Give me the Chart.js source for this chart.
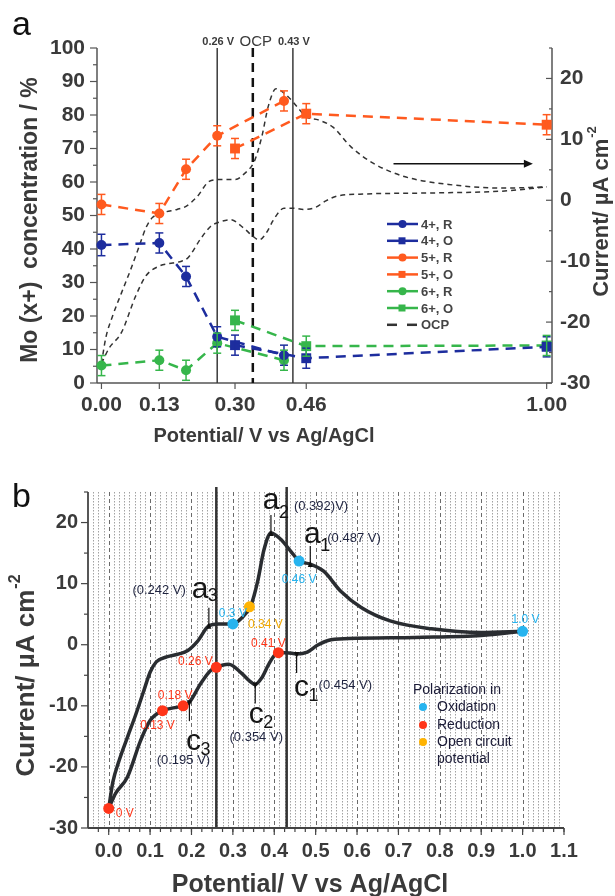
<!DOCTYPE html>
<html>
<head>
<meta charset="utf-8">
<title>Mo oxidation states and cyclic voltammogram</title>
<script src="https://cdn.jsdelivr.net/npm/chart.js@4.4.1/dist/chart.umd.min.js"></script>
<style>
  body { margin: 0; background: #fff; }
  canvas { position: absolute; left: 0; }
</style>
</head>
<body>
<canvas id="panelA" width="615" height="450" style="top:0"></canvas>
<canvas id="panelB" width="615" height="446" style="top:450px"></canvas>
<script>
// ---------- panel a: Mo (x+) fractions at each polarization potential ----------
const potR = [0, 0.13, 0.19, 0.26, 0.41];      // reduction-branch samples (V)
const potO = [0.30, 0.46, 1.00];               // oxidation-branch samples (V)
const mo4R = [41.2, 41.8, 31.8, 13.8, 8.3];
const mo4O = [11.3, 7.4, 10.8];
const mo5R = [53.3, 50.6, 63.8, 73.8, 84.2];
const mo5O = [70.0, 80.4, 77.1];
const mo6R = [5.2, 6.8, 3.8, 11.9, 6.8];
const mo6O = [18.7, 11.0, 11.2];
const err4R = [3.2, 3.0, 3.0, 3.0, 3.0];
const err4O = [3.0, 3.0, 3.0];
const err5R = [3.0, 3.0, 3.0, 3.0, 3.0];
const err5O = [3.0, 3.0, 3.0];
const err6R = [3.0, 3.0, 3.0, 3.0, 3.0];
const err6O = [3.0, 3.0, 3.0];
const xTicksA = [0, 0.13, 0.30, 0.46, 1.00];
const concTicks = [0, 10, 20, 30, 40, 50, 60, 70, 80, 90, 100];
const currTicks = [-30, -20, -10, 0, 10, 20];
const guideV = [0.26, 0.43];
const guideLbl = ['0.26 V', '0.43 V'];
const ocpPot = 0.34;

// ---------- cyclic voltammogram (both panels) ----------
const cvUpV = [0, 0.010, 0.025, 0.045, 0.065, 0.085, 0.100, 0.115, 0.140, 0.170, 0.190, 0.215, 0.242,
  0.265, 0.300, 0.320, 0.344, 0.360, 0.375, 0.392, 0.415, 0.440, 0.460, 0.487, 0.520, 0.560, 0.610,
  0.680, 0.780, 0.900, 1.000];
const cvUpI = [-26.8, -22.5, -19.0, -15.2, -11.5, -7.5, -4.5, -2.8, -2.0, -1.5, -1.0, 0.6, 3.1,
  3.4, 3.4, 4.3, 6.5, 10.4, 15.5, 18.3, 17.3, 15.3, 13.7, 13.2, 12.0, 8.8, 6.1,
  3.9, 2.6, 2.0, 2.2];
const cvDownV = [0, 0.017, 0.045, 0.077, 0.100, 0.130, 0.160, 0.180, 0.195, 0.222, 0.245, 0.260,
  0.290, 0.320, 0.340, 0.354, 0.370, 0.385, 0.400, 0.410, 0.430, 0.454, 0.480, 0.504, 0.530,
  0.580, 0.740, 0.900, 1.000];
const cvDownI = [-26.8, -24.3, -21.7, -15.7, -12.4, -10.8, -10.3, -10.0, -9.4, -6.4, -4.3, -3.7,
  -3.2, -4.6, -5.9, -6.5, -5.4, -3.4, -1.8, -1.3, -1.3, -1.5, -1.2, -0.1, 0.7,
  1.0, 1.2, 1.5, 2.2];
const arrowFrom = [0.656, 6.0], arrowTo = [0.969, 6.0];

// ---------- panel b ----------
const xTicksB = [0, 0.1, 0.2, 0.3, 0.4, 0.5, 0.6, 0.7, 0.8, 0.9, 1.0, 1.1];
const oxV = [0.30, 0.46, 1.0], oxI = [3.4, 13.7, 2.2], oxLbl = ['0.3 V', '0.46 V', '1.0 V'];
const redV = [0, 0.13, 0.18, 0.26, 0.41], redI = [-26.8, -10.8, -10.0, -3.7, -1.3];
const redLbl = ['0 V', '0.13 V', '0.18 V', '0.26 V', '0.41 V'];
const ocpV = [0.34], ocpI = [6.2], ocpLbl = ['0.34 V'];
const peakName = ['a', 'a', 'a', 'c', 'c', 'c'];
const peakSub = ['3', '2', '1', '1', '2', '3'];
const peakV = [0.242, 0.392, 0.487, 0.454, 0.354, 0.195];
const peakI = [3.1, 18.3, 13.2, -1.5, -6.5, -9.4];
const peakNote = ['(0.242 V)', '(0.392)V)', '(0.487 V)', '(0.454 V)', '(0.354 V)', '(0.195 V)'];

const FONT = '"Liberation Sans", Arial, sans-serif';
const BLUE = '#1d2d9e', ORANGE = '#ff5a1f', GREEN = '#36b64b';
const OXC = '#27b4ef', REDC = '#ff3519', OCPC = '#ffb403';
const INK = '#3a3a3a';

Chart.defaults.font.family = FONT;
Chart.defaults.color = INK;

function pts(xs, ys) { return xs.map((x, i) => ({x, y: ys[i]})); }
function fixedTicks(list) { return scale => { scale.ticks = list.map(v => ({value: v})); }; }
function seg(ctx, x1, y1, x2, y2) { ctx.beginPath(); ctx.moveTo(x1, y1); ctx.lineTo(x2, y2); ctx.stroke(); }
function steps(a, b, s) { const out = []; for (let v = a; v <= b + 1e-9; v += s) out.push(+v.toFixed(4)); return out; }

// rotated axis title with an optional superscript (reads bottom to top)
function vTitle(ctx, main, sup, size, cx, cy) {
  ctx.save();
  ctx.translate(cx, cy);
  ctx.rotate(-Math.PI / 2);
  ctx.fillStyle = INK;
  ctx.textBaseline = 'middle';
  ctx.textAlign = 'left';
  ctx.font = `bold ${size}px ${FONT}`;
  const w1 = ctx.measureText(main).width;
  ctx.font = `bold ${Math.round(size * 0.6)}px ${FONT}`;
  const w2 = sup ? ctx.measureText(sup).width : 0;
  const x0 = -(w1 + w2) / 2;
  ctx.font = `bold ${size}px ${FONT}`;
  ctx.fillText(main, x0, 0);
  if (sup) {
    ctx.font = `bold ${Math.round(size * 0.6)}px ${FONT}`;
    ctx.fillText(sup, x0 + w1 + 1, -size * 0.42);
  }
  ctx.restore();
}

function text(ctx, str, x, y, font, color, align, base) {
  ctx.font = font;
  ctx.fillStyle = color;
  ctx.textAlign = align || 'left';
  ctx.textBaseline = base || 'alphabetic';
  ctx.fillText(str, x, y);
}

function cvDataset(xs, ys, axis, style) {
  return Object.assign({
    data: pts(xs, ys), yAxisID: axis, showLine: true, pointRadius: 0,
    cubicInterpolationMode: 'monotone', fill: false, clip: false
  }, style);
}

function moSeries(label, xs, ys, errs, color, shape) {
  return {
    label, data: pts(xs, ys), errs, yAxisID: 'y', showLine: true, inLegend: true,
    borderColor: color, backgroundColor: color, borderWidth: 2.5, borderDash: [10, 7],
    pointStyle: shape, pointRadius: shape === 'rect' ? 7 : 5, pointBorderWidth: 0,
    clip: false, order: 0
  };
}

// ---------- panel a drawing ----------
const panelAExtras = {
  id: 'panelAExtras',
  beforeDatasetsDraw(chart) {
    const {ctx, chartArea: a, scales: {x, y, y1}} = chart;
    ctx.save();
    ctx.strokeStyle = '#555';
    ctx.lineWidth = 1.5;
    seg(ctx, a.left, a.top, a.left, a.bottom);
    seg(ctx, a.right, a.top, a.right, a.bottom);
    seg(ctx, a.left, a.bottom, a.right, a.bottom);
    ctx.lineWidth = 1.2;
    concTicks.forEach(v => { const p = y.getPixelForValue(v); seg(ctx, a.left - 7, p, a.left, p); });
    steps(5, 95, 10).forEach(v => { const p = y.getPixelForValue(v); seg(ctx, a.left - 4, p, a.left, p); });
    currTicks.forEach(v => { const p = y1.getPixelForValue(v); seg(ctx, a.right - 6, p, a.right, p); });
    steps(-25, 25, 10).forEach(v => { const p = y1.getPixelForValue(v); seg(ctx, a.right - 3, p, a.right, p); });
    xTicksA.forEach(v => { const p = x.getPixelForValue(v); seg(ctx, p, a.bottom, p, a.bottom + 6); });

    // polarization guide lines
    ctx.strokeStyle = '#3a3a3a';
    ctx.lineWidth = 1.5;
    guideV.forEach(v => { const p = x.getPixelForValue(v); seg(ctx, p, a.top, p, a.bottom); });
    ctx.strokeStyle = '#111';
    ctx.lineWidth = 2.5;
    ctx.setLineDash([9, 6]);
    const po = x.getPixelForValue(ocpPot);
    seg(ctx, po, a.top, po, a.bottom);
    ctx.restore();
  },
  afterDatasetsDraw(chart) {
    const {ctx, chartArea: a, scales: {x, y, y1}} = chart;
    ctx.save();
    // error bars
    chart.data.datasets.forEach((d, i) => {
      if (!d.errs) return;
      const meta = chart.getDatasetMeta(i);
      ctx.strokeStyle = d.borderColor;
      ctx.lineWidth = 1.5;
      meta.data.forEach((pt, j) => {
        const v = d.data[j].y, e = d.errs[j];
        const top = y.getPixelForValue(v + e), bot = y.getPixelForValue(v - e);
        seg(ctx, pt.x, top, pt.x, bot);
        seg(ctx, pt.x - 4, top, pt.x + 4, top);
        seg(ctx, pt.x - 4, bot, pt.x + 4, bot);
      });
    });

    // arrow pointing to the current axis
    const ax1 = x.getPixelForValue(arrowFrom[0]), ay = y1.getPixelForValue(arrowFrom[1]);
    const ax2 = x.getPixelForValue(arrowTo[0]);
    ctx.strokeStyle = '#111';
    ctx.fillStyle = '#111';
    ctx.lineWidth = 1.5;
    seg(ctx, ax1, ay, ax2 - 6, ay);
    ctx.beginPath();
    ctx.moveTo(ax2, ay); ctx.lineTo(ax2 - 9, ay - 4); ctx.lineTo(ax2 - 9, ay + 4); ctx.closePath();
    ctx.fill();

    // guide line captions
    guideV.forEach((v, i) => text(ctx, guideLbl[i], x.getPixelForValue(v) + 1, a.top - 3,
      `bold 11px ${FONT}`, INK, 'center'));
    text(ctx, 'OCP', x.getPixelForValue(ocpPot) + 3, a.top - 2, `15px ${FONT}`, INK, 'center');

    // legend
    const rows = chart.data.datasets.filter(d => d.inLegend);
    rows.forEach((d, i) => {
      const ly = 224 + i * 16.8;
      ctx.strokeStyle = d.borderColor;
      ctx.fillStyle = d.borderColor;
      if (d.pointRadius) {
        ctx.lineWidth = 2.5;
        ctx.setLineDash([]);
        seg(ctx, 387, ly, 418, ly);
        ctx.beginPath();
        if (d.pointStyle === 'rect') ctx.rect(398.5, ly - 3.5, 7, 7);
        else ctx.arc(402.5, ly, 4, 0, Math.PI * 2);
        ctx.fill();
      } else {
        ctx.lineWidth = 2.5;
        ctx.setLineDash([10, 10]);
        seg(ctx, 387, ly, 418, ly);
        ctx.setLineDash([]);
      }
      text(ctx, d.label, 421, ly + 1, `bold 13px ${FONT}`, '#444', 'left', 'middle');
    });

    // titles
    text(ctx, 'a', 12, 35, `34px ${FONT}`, '#111');
    vTitle(ctx, 'Mo (x+)  concentration / %', '', 23, 31, 220);
    vTitle(ctx, 'Current/ \u00b5A cm', '-2', 22, 602, 212);
    text(ctx, 'Potential/ V vs Ag/AgCl', 264, 442, `bold 20px ${FONT}`, INK, 'center');
    ctx.restore();
  }
};

new Chart(document.getElementById('panelA'), {
  type: 'scatter',
  data: {
    datasets: [
      moSeries('4+, R', potR, mo4R, err4R, BLUE, 'circle'),
      moSeries('4+, O', potO, mo4O, err4O, BLUE, 'rect'),
      moSeries('5+, R', potR, mo5R, err5R, ORANGE, 'circle'),
      moSeries('5+, O', potO, mo5O, err5O, ORANGE, 'rect'),
      moSeries('6+, R', potR, mo6R, err6R, GREEN, 'circle'),
      moSeries('6+, O', potO, mo6O, err6O, GREEN, 'rect'),
      cvDataset(cvUpV, cvUpI, 'y1', {label: 'OCP', inLegend: true, borderColor: '#333',
        borderWidth: 1.5, borderDash: [5, 4], order: 1}),
      cvDataset(cvDownV, cvDownI, 'y1', {label: 'OCP', borderColor: '#333',
        borderWidth: 1.5, borderDash: [5, 4], order: 1})
    ]
  },
  options: {
    responsive: false,
    animation: false,
    layout: {padding: {top: 48, left: 0, right: 0, bottom: 0}},
    plugins: {legend: {display: false}, tooltip: {enabled: false}},
    scales: {
      x: {
        type: 'linear', min: -0.01, max: 1.012,
        afterBuildTicks: fixedTicks(xTicksA),
        afterFit: s => { s.height = 67; },
        grid: {display: false, drawTicks: false}, border: {display: false},
        ticks: {padding: 10, autoSkip: false, maxRotation: 0, color: INK,
          font: {size: 21, weight: 'bold'}, callback: v => v.toFixed(2)}
      },
      y: {
        type: 'linear', position: 'left', min: 0, max: 100,
        afterBuildTicks: fixedTicks(concTicks),
        afterFit: s => { s.width = 97; },
        grid: {display: false, drawTicks: false}, border: {display: false},
        ticks: {padding: 12, autoSkip: false, color: INK, font: {size: 21, weight: 'bold'}}
      },
      y1: {
        type: 'linear', position: 'right', min: -30, max: 25,
        afterBuildTicks: fixedTicks(currTicks),
        afterFit: s => { s.width = 63; },
        grid: {display: false, drawTicks: false}, border: {display: false},
        ticks: {padding: 8, autoSkip: false, color: INK, font: {size: 21, weight: 'bold'}}
      }
    }
  },
  plugins: [panelAExtras]
});

// ---------- panel b drawing ----------
const panelBExtras = {
  id: 'panelBExtras',
  beforeDatasetsDraw(chart) {
    const {ctx, chartArea: a, scales: {x, y}} = chart;
    ctx.save();
    // vertical dotted grid, darker dashes every 0.1 V
    for (let k = -3; k <= 87; k++) {
      const p = Math.round(x.getPixelForValue(k * 0.0125)) + 0.5;
      const major = k % 8 === 0;
      ctx.strokeStyle = major ? '#6a6a6a' : '#a2a2a2';
      ctx.lineWidth = 1;
      ctx.setLineDash(major ? [4, 3] : [1.5, 1.5]);
      seg(ctx, p, a.top, p, a.bottom);
    }
    ctx.setLineDash([]);

    ctx.strokeStyle = '#333';
    ctx.lineWidth = 2.5;
    guideV.forEach(v => { const p = x.getPixelForValue(v); seg(ctx, p, a.top - 5, p, a.bottom); });

    ctx.strokeStyle = '#444';
    ctx.lineWidth = 1.8;
    seg(ctx, a.left, a.top, a.left, a.bottom);
    seg(ctx, a.left, a.bottom, a.right, a.bottom);
    ctx.lineWidth = 1.2;
    currTicks.forEach(v => { const p = y.getPixelForValue(v); seg(ctx, a.left - 7, p, a.left, p); });
    steps(-25, 25, 10).forEach(v => { const p = y.getPixelForValue(v); seg(ctx, a.left - 4, p, a.left, p); });
    xTicksB.forEach(v => { const p = x.getPixelForValue(v); seg(ctx, p, a.bottom, p, a.bottom + 7); });
    steps(-0.025, 1.1, 0.025).forEach(v => {
      const p = x.getPixelForValue(v); seg(ctx, p, a.bottom, p, a.bottom + 4);
    });
    ctx.restore();
  },
  afterDatasetsDraw(chart) {
    const {ctx, scales: {x, y}} = chart;
    ctx.save();
    // peak markers: arrow to the curve plus name, subscript and potential
    const layout = [
      {dir: -1, l: -10, s: [-1, -7], n: [-23, -17, 'right']},
      {dir: -1, l: -6, s: [8, 3], n: [23, -9, 'left']},
      {dir: -1, l: -3, s: [10, 5], n: [17, -8, 'left']},
      {dir: 1, l: 23, s: [12, 28], n: [22, 13, 'left']},
      {dir: 1, l: 20, s: [8, 25], n: [1, 34, 'center']},
      {dir: 1, l: 29, s: [11, 34], n: [-6, 39, 'center']}
    ];
    peakV.forEach((v, i) => {
      const L = layout[i];
      const px = x.getPixelForValue(v), py = y.getPixelForValue(peakI[i]);
      const tip = py + (L.dir < 0 ? -3 : 4), tail = tip + L.dir * 15;
      ctx.strokeStyle = '#111';
      ctx.fillStyle = '#111';
      ctx.lineWidth = 1.2;
      seg(ctx, px, tail, px, tip - L.dir * 4);
      ctx.beginPath();
      ctx.moveTo(px, tip); ctx.lineTo(px - 2.5, tip - L.dir * 6); ctx.lineTo(px + 2.5, tip - L.dir * 6);
      ctx.closePath();
      ctx.fill();
      // name sits right against its subscript
      text(ctx, peakName[i], px + L.s[0] + 0.5, tail + L.l, `30px ${FONT}`, '#151515', 'right');
      text(ctx, peakSub[i], px + L.s[0], tail + L.s[1], `18px ${FONT}`, '#151515');
      text(ctx, peakNote[i], px + L.n[0], tail + L.n[1], `13px ${FONT}`, '#1f2440', L.n[2], 'middle');
    });

    // polarization point captions
    const caption = (vs, is, lbls, color, offs) => vs.forEach((v, i) => {
      const o = offs[i];
      text(ctx, lbls[i], x.getPixelForValue(v) + o[0], y.getPixelForValue(is[i]) + o[1],
        `12px ${FONT}`, color, o[2] || 'center', 'middle');
    });
    caption(redV, redI, redLbl, REDC, [[7, 5, 'left'], [-5, 15], [-8, -10], [-21, -6], [-10, -9]]);
    caption(oxV, oxI, oxLbl, OXC, [[0, -10], [0, 19], [3, -12]]);
    caption(ocpV, ocpI, ocpLbl, '#f2a900', [[16, 18]]);

    // polarization legend
    text(ctx, 'Polarization in', 413, 240, `14px ${FONT}`, '#1c1c38', 'left', 'middle');
    [['Oxidation', OXC, 257], ['Reduction', REDC, 275], ['Open circuit', OCPC, 292]].forEach(r => {
      ctx.fillStyle = r[1];
      ctx.beginPath(); ctx.arc(423, r[2], 4, 0, Math.PI * 2); ctx.fill();
      text(ctx, r[0], 437, r[2], `14px ${FONT}`, '#1c1c38', 'left', 'middle');
    });
    text(ctx, 'potential', 437, 309, `14px ${FONT}`, '#1c1c38', 'left', 'middle');

    // titles
    text(ctx, 'b', 12, 57, `34px ${FONT}`, '#111');
    vTitle(ctx, 'Current/ \u00b5A cm', '-2', 26, 27, 226);
    text(ctx, 'Potential/ V vs Ag/AgCl', 310, 442, `bold 25px ${FONT}`, INK, 'center');
    ctx.restore();
  }
};

new Chart(document.getElementById('panelB'), {
  type: 'scatter',
  data: {
    datasets: [
      {label: 'Oxidation', data: pts(oxV, oxI), pointRadius: 5.5, pointBorderWidth: 0,
        backgroundColor: OXC, clip: false, order: 0},
      {label: 'Reduction', data: pts(redV, redI), pointRadius: 5.5, pointBorderWidth: 0,
        backgroundColor: REDC, clip: false, order: 0},
      {label: 'Open circuit potential', data: pts(ocpV, ocpI), pointRadius: 5.5, pointBorderWidth: 0,
        backgroundColor: OCPC, clip: false, order: 0},
      cvDataset(cvUpV, cvUpI, 'y', {label: 'CV', borderColor: '#2a2d31', borderWidth: 3.5, order: 1}),
      cvDataset(cvDownV, cvDownI, 'y', {label: 'CV', borderColor: '#2a2d31', borderWidth: 3.5, order: 1})
    ]
  },
  options: {
    responsive: false,
    animation: false,
    layout: {padding: {top: 42, left: 0, right: 51, bottom: 0}},
    plugins: {legend: {display: false}, tooltip: {enabled: false}},
    scales: {
      x: {
        type: 'linear', min: -0.05, max: 1.1,
        afterBuildTicks: fixedTicks(xTicksB),
        afterFit: s => { s.height = 68; },
        grid: {display: false, drawTicks: false}, border: {display: false},
        ticks: {padding: 11, autoSkip: false, maxRotation: 0, color: INK,
          font: {size: 20, weight: 'bold'}, callback: v => v.toFixed(1)}
      },
      y: {
        type: 'linear', position: 'left', min: -30, max: 25,
        afterBuildTicks: fixedTicks(currTicks),
        afterFit: s => { s.width = 88; },
        grid: {display: false, drawTicks: false}, border: {display: false},
        ticks: {padding: 10, autoSkip: false, color: INK, font: {size: 20, weight: 'bold'}}
      }
    }
  },
  plugins: [panelBExtras]
});
</script>
</body>
</html>
